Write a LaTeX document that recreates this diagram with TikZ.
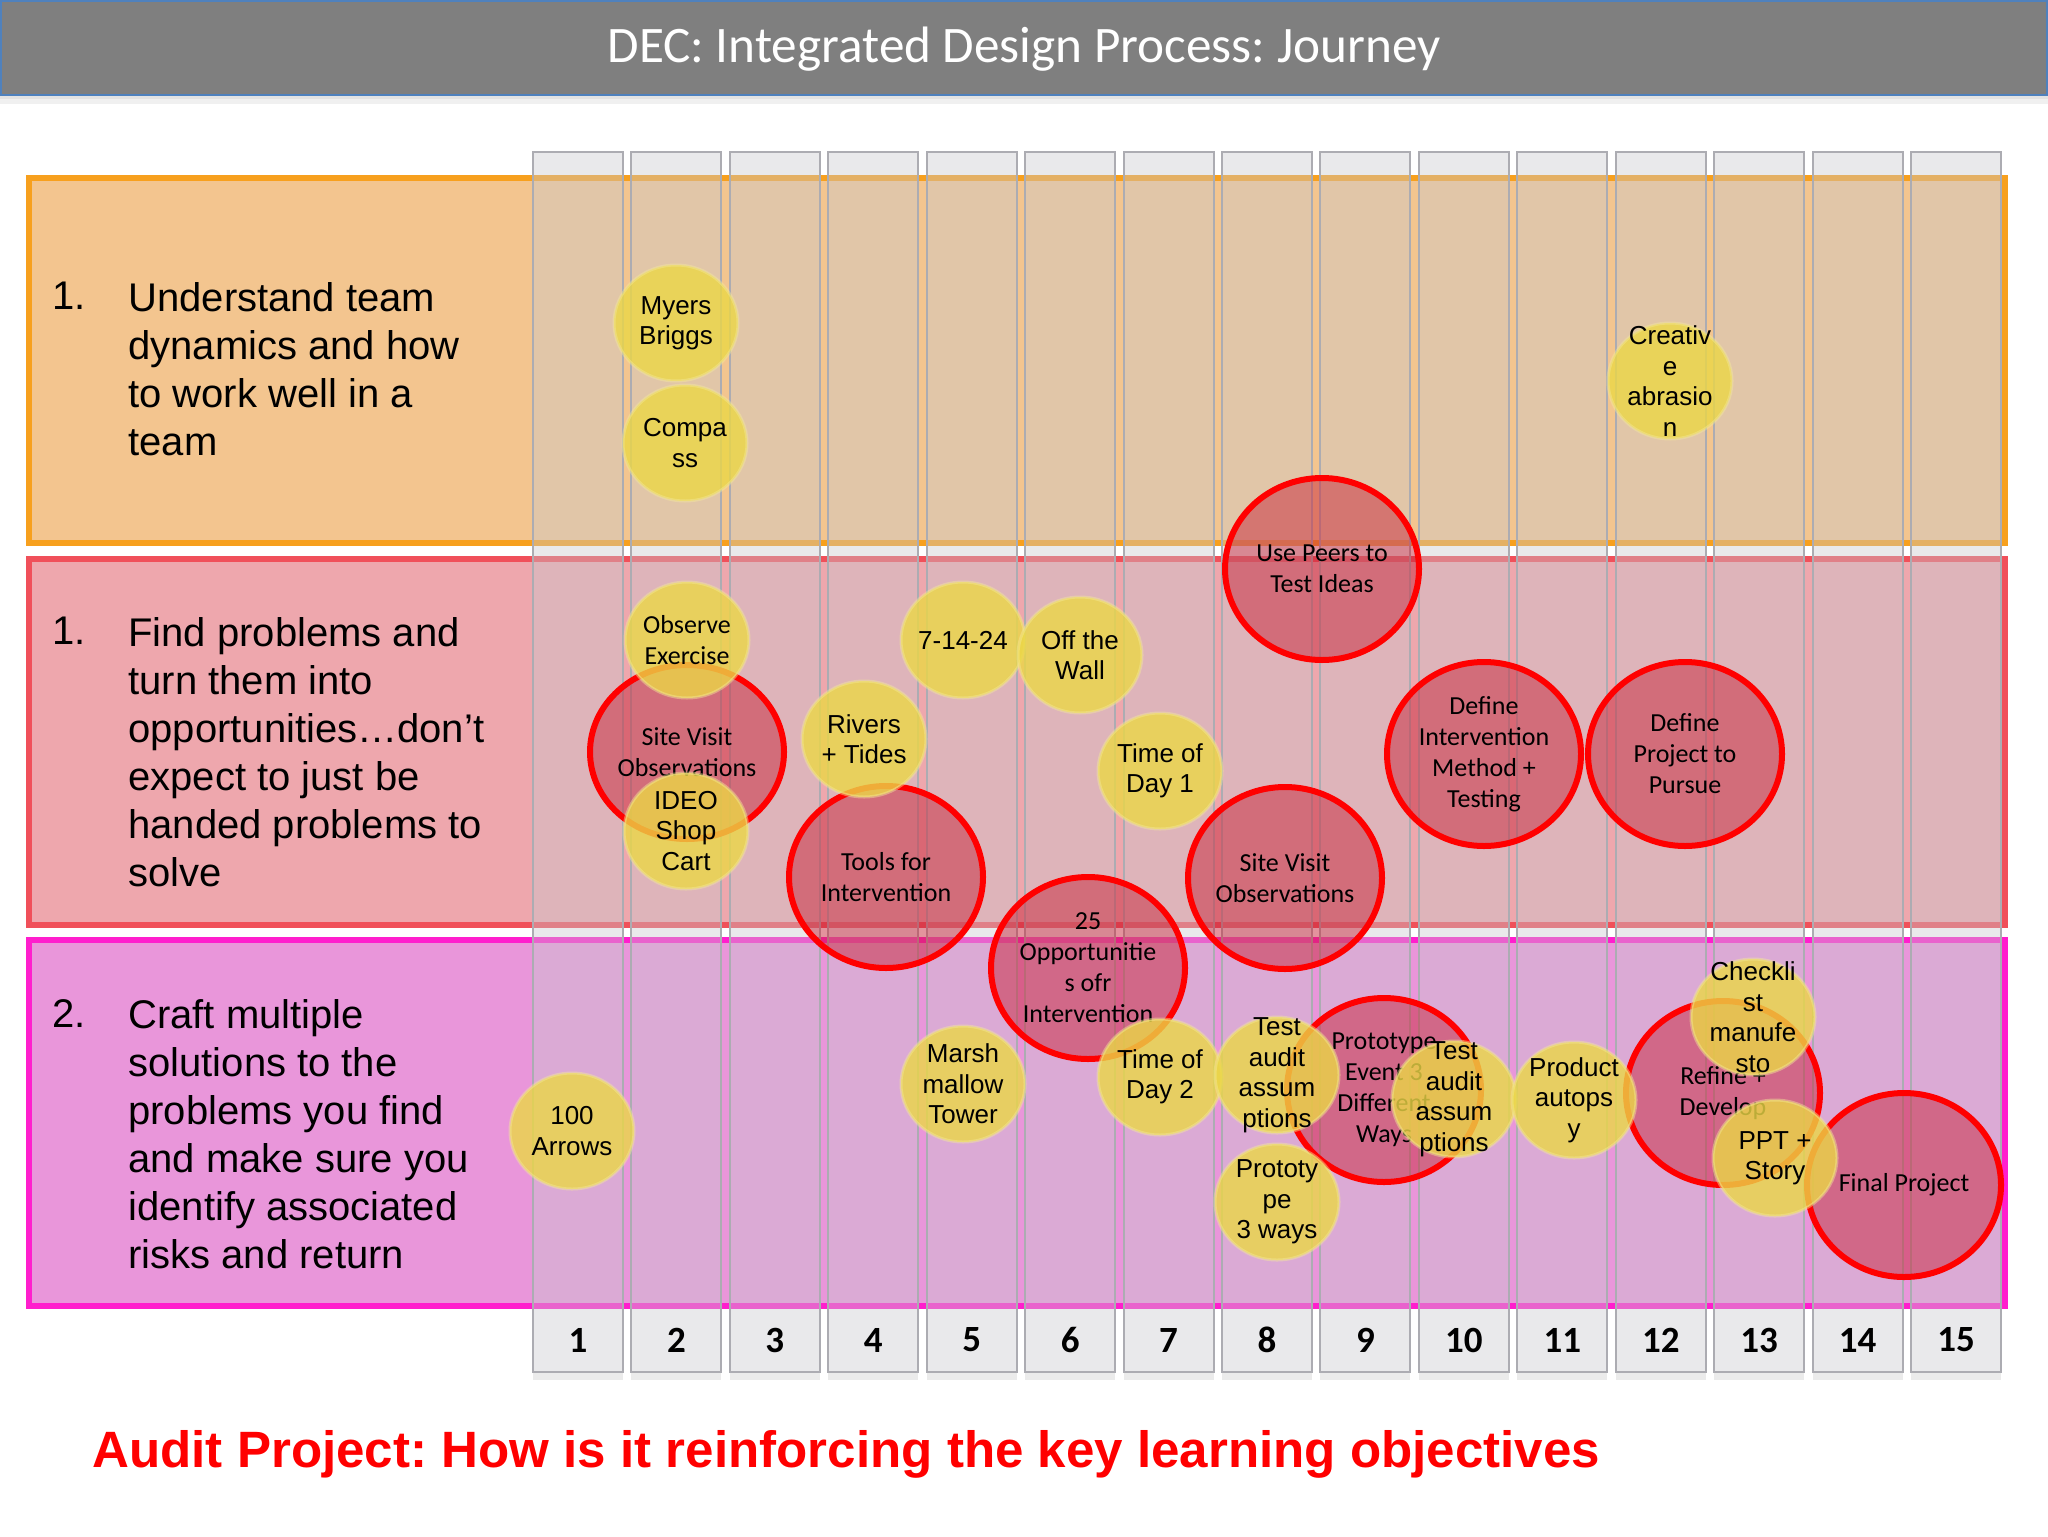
\documentclass[tikz,border=0pt]{standalone}
\usepackage{fontspec}
\setmainfont{Liberation Sans}
\newfontfamily\calfont{Carlito}
\usetikzlibrary{shapes.geometric}
\frenchspacing
\definecolor{titlegray}{RGB}{127,127,127}
\definecolor{titleblue}{RGB}{79,129,189}
\definecolor{rowAfill}{RGB}{243,197,143}
\definecolor{rowAline}{RGB}{247,160,30}
\definecolor{rowBfill}{RGB}{238,167,173}
\definecolor{rowBline}{RGB}{240,80,90}
\definecolor{rowCfill}{RGB}{233,150,218}
\definecolor{rowCline}{RGB}{255,30,205}
\definecolor{colfill}{RGB}{200,200,206}
\definecolor{colline}{RGB}{172,172,178}
\definecolor{redfill}{RGB}{200,40,60}
\definecolor{yelfill}{RGB}{235,215,70}
\newcommand\redbub[5]{%
  \node[rbshape, minimum height=#4pt] (#1) at (#2,#3) {};
  \node[rbtext] (#1-t) at (#1) {#5};}
\newcommand\yelbub[5][ybtext]{%
  \node[ybshape] (#2) at (#3,#4) {};
  \node[#1] (#2-t) at (#2) {#5};}
\begin{document}
\begin{tikzpicture}[x=0.5pt,y=-0.5pt,
  rowbox/.style={line width=3pt},
  colbox/.style={fill=colfill, fill opacity=0.4, draw=colline, draw opacity=1, line width=1pt},
  rowtext/.style={anchor=north west, align=left, inner sep=0pt, font=\fontsize{20}{24}\selectfont},
  num/.style={font=\calfont\bfseries\fontsize{18.5}{20}\selectfont, inner sep=0pt},
  rbshape/.style={ellipse, draw=red, line width=3pt, fill=redfill, fill opacity=0.5, draw opacity=1, minimum width=97pt, inner sep=0pt},
  rbtext/.style={align=center, inner sep=0pt, font=\calfont\fontsize{13}{15.5}\selectfont},
  ybshape/.style={ellipse, fill=yelfill, fill opacity=0.8, draw=yelfill!55!white, draw opacity=0.45, line width=1.5pt, minimum width=62pt, minimum height=58pt, inner sep=0pt},
  ybtext/.style={align=center, inner sep=0pt, font=\fontsize{13}{15.25}\selectfont},
  ybtextc/.style={align=center, inner sep=0pt, font=\calfont\fontsize{13}{15.25}\selectfont}]
\useasboundingbox (0,0) rectangle (2048,1536);
\fill[white] (0,0) rectangle (2048,1536);
% title bar
\fill[black, opacity=0.06] (0,95) rectangle (2048,104);
\fill[black, opacity=0.05] (0,95) rectangle (2048,99);
\draw[fill=titlegray, draw=titleblue, line width=1pt] (1,1) rectangle (2047,95);
\node[text=white, font=\calfont\fontsize{25.6}{30}\selectfont] (title) at (1024,49) {DEC: Integrated Design Process: Journey};
% rows
\draw[rowbox, fill=rowAfill, draw=rowAline] (29,178) rectangle (2005,543);
\draw[rowbox, fill=rowBfill, draw=rowBline] (29,559) rectangle (2005,925);
\draw[rowbox, fill=rowCfill, draw=rowCline] (29,940) rectangle (2005,1306);
% columns
\foreach \i in {0,...,14} {
  \fill[black, opacity=0.08] ({533+98.43*\i},1372) rectangle ++(90,8);
  \draw[colbox] ({533+98.43*\i},152) rectangle ++(90,1220);
}
\foreach \i in {1,...,15} {
  \node[num] (n\i) at ({578+98.43*(\i-1)},1340) {\i};
}
% row labels
\node[rowtext] (r1n) at (52,282) {1.};
\node[rowtext] (r1t) at (128,282) {Understand team\\dynamics and how\\to work well in a\\team};
\node[rowtext] (r2n) at (52,617) {1.};
\node[rowtext] (r2t) at (128,617) {Find problems and\\turn them into\\opportunities…don’t\\expect to just be\\handed problems to\\solve};
\node[rowtext] (r3n) at (52,999) {2.};
\node[rowtext] (r3t) at (128,999) {Craft multiple\\solutions to the\\problems you find\\and make sure you\\identify associated\\risks and return};
% red bubbles
\redbub{usepeers}{1322}{569}{91}{Use Peers to\\Test Ideas}
\redbub{sitetwo}{687}{752}{87}{Site Visit\\Observations}
\redbub{tools}{886}{877}{91}{Tools for\\Intervention}
\redbub{opp}{1088}{968}{91}{25\\Opportunitie\\s ofr\\Intervention}
\redbub{siteeight}{1285}{878}{91}{Site Visit\\Observations}
\redbub{defint}{1484}{754}{92}{Define\\Intervention\\Method +\\Testing}
\redbub{defproj}{1685}{754}{92}{Define\\Project to\\Pursue}
\redbub{protoev}{1384}{1090}{92}{Prototype\\Event 3\\Different\\Ways}
\redbub{refine}{1723}{1093}{92}{Refine +\\Develop}
\redbub{final}{1904}{1185}{92}{Final Project}
% yellow bubbles
\yelbub{myers}{676}{323}{Myers\\Briggs}
\yelbub{compass}{685}{443}{Compa\\ss}
\yelbub{creative}{1670}{381}{Creativ\\e\\abrasio\\n}
\yelbub[ybtextc]{observe}{687}{640}{Observe\\Exercise}
\yelbub{ideo}{686}{831}{IDEO\\Shop\\Cart}
\yelbub{rivers}{864}{739}{Rivers\\+ Tides}
\yelbub{seven}{963}{640}{7-14-24}
\yelbub{offwall}{1080}{655}{Off the\\Wall}
\yelbub{todone}{1160}{771}{Time of\\Day 1}
\yelbub{marsh}{963}{1084}{Marsh\\mallow\\Tower}
\yelbub{todtwo}{1160}{1077}{Time of\\Day 2}
\yelbub{arrows}{572}{1131}{100\\Arrows}
\yelbub{testa}{1277}{1075}{Test\\audit\\assum\\ptions}
\yelbub{protothree}{1277}{1202}{Prototy\\pe\\3 ways}
\yelbub{testb}{1454}{1099}{Test\\audit\\assum\\ptions}
\yelbub{product}{1574}{1100}{Product\\autops\\y}
\yelbub{check}{1753}{1017}{Checkli\\st\\manufe\\sto}
\yelbub{ppt}{1775}{1158}{PPT +\\Story}
% footer
\node[anchor=base west, inner sep=0pt, text=red, font=\bfseries\fontsize{25.55}{30}\selectfont] (footer) at (92,1467) {Audit Project: How is it reinforcing the key learning objectives};
\end{tikzpicture}
\end{document}
